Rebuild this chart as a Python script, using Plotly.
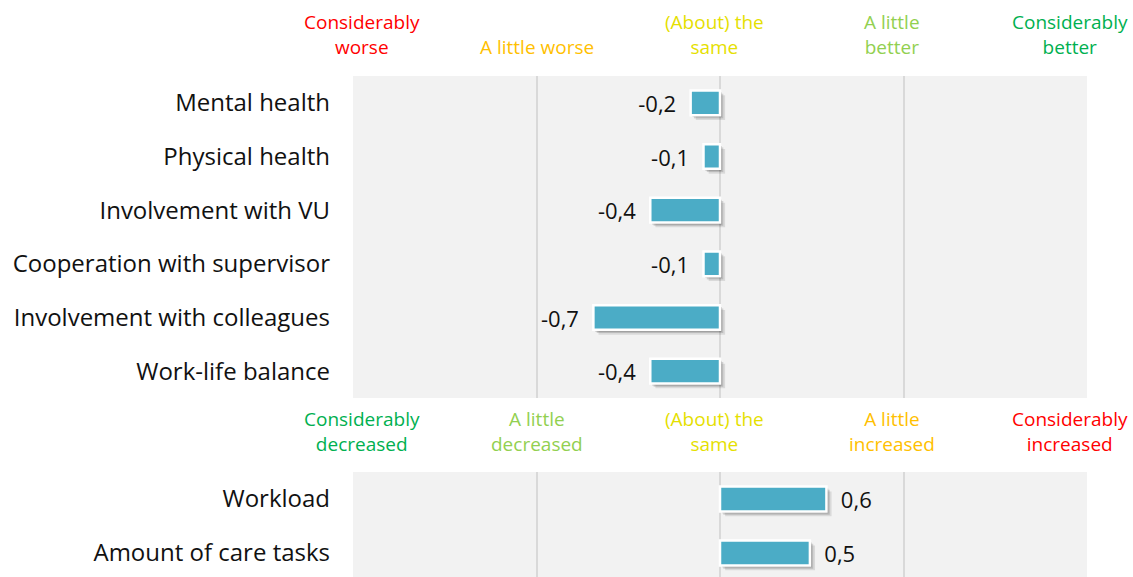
import plotly.graph_objects as go

# ---- data ----
top_categories = ["Mental health", "Physical health", "Involvement with VU",
                  "Cooperation with supervisor", "Involvement with colleagues", "Work-life balance"]
top_values = [-0.16, -0.09, -0.38, -0.09, -0.69, -0.38]

bottom_categories = ["Workload", "Amount of care tasks"]
bottom_values = [0.58, 0.49]

scale_values = [-2, -1, 0, 1, 2]
top_scale_labels = ["Considerably<br>worse", "A little worse", "(About) the<br>same",
                    "A little<br>better", "Considerably<br>better"]
bottom_scale_labels = ["Considerably<br>decreased", "A little<br>decreased", "(About) the<br>same",
                       "A little<br>increased", "Considerably<br>increased"]
top_scale_colors = ["#ff0000", "#ffc000", "#e5e000", "#92d050", "#00b050"]
bottom_scale_colors = ["#00b050", "#92d050", "#e5e000", "#ffc000", "#ff0000"]

FONT = "Open Sans"
BAR = "#4bacc6"
W = 0.46

fig = go.Figure()

def add_bars(cats, vals, xa, ya, neg):
    # soft shadow layers
    for dx, doff, alpha in [(0.028, 0.09, 0.10), (0.018, 0.06, 0.14), (0.01, 0.035, 0.18)]:
        fig.add_trace(go.Bar(
            y=cats, x=vals, base=dx, orientation="h", width=W, offset=-W / 2 + doff,
            marker=dict(color=f"rgba(0,0,0,{alpha})", line=dict(width=0)),
            xaxis=xa, yaxis=ya, hoverinfo="skip", showlegend=False))
    fig.add_trace(go.Bar(
        y=cats, x=vals, orientation="h", width=W, offset=-W / 2,
        marker=dict(color=BAR, line=dict(color="white", width=2.5)),
        texttemplate=("%{x:.1f}\u00a0\u00a0" if neg else "\u00a0\u00a0%{x:.1f}"),
        textposition="outside", cliponaxis=False, constraintext="none",
        textfont=dict(family=FONT, size=22, color="#111"),
        xaxis=xa, yaxis=ya, showlegend=False))

add_bars(top_categories, top_values, "x", "y", True)
add_bars(bottom_categories, bottom_values, "x2", "y2", False)

H = 577
top_dom = [1 - 398 / H, 1 - 76 / H]
bot_dom = [0, 105 / H]

axis_common = dict(range=[-2, 2], dtick=1, tick0=0, showticklabels=False,
                   showgrid=True, gridcolor="#d9d9d9", gridwidth=2,
                   zeroline=True, zerolinecolor="#d9d9d9", zerolinewidth=2,
                   fixedrange=True)
yaxis_common = dict(showgrid=False, zeroline=False, ticks="", ticklabelstandoff=22,
                    tickfont=dict(family=FONT, size=24, color="#111"), fixedrange=True)

fig.update_layout(
    width=1133, height=577,
    margin=dict(l=353, r=46, t=0, b=0),
    paper_bgcolor="white", plot_bgcolor="#f2f2f2",
    separators=", ",
    barmode="overlay",
    font=dict(family=FONT),
    xaxis=dict(domain=[0, 1], anchor="y", **axis_common),
    yaxis=dict(domain=top_dom, anchor="x", range=[5.5, -0.5], **yaxis_common),
    xaxis2=dict(domain=[0, 1], anchor="y2", **axis_common),
    yaxis2=dict(domain=bot_dom, anchor="x2", range=[-0.5 + 105 / 54, -0.5], **yaxis_common),
)

# scale headers
header_shift = [0.05, 0.0, -0.03, -0.06, -0.09]
for i, v in enumerate(scale_values):
    fig.add_annotation(x=v + header_shift[i], xref="x", y=1 - 62 / H, yref="paper",
                       text=top_scale_labels[i], showarrow=False, xanchor="center", yanchor="bottom",
                       font=dict(family=FONT, size=19, color=top_scale_colors[i]))
    fig.add_annotation(x=v + header_shift[i], xref="x", y=1 - 459 / H, yref="paper",
                       text=bottom_scale_labels[i], showarrow=False, xanchor="center", yanchor="bottom",
                       font=dict(family=FONT, size=19, color=bottom_scale_colors[i]))

fig.write_html("out.html", config={"displayModeBar": False},
               post_script="document.body.style.margin='0';")
